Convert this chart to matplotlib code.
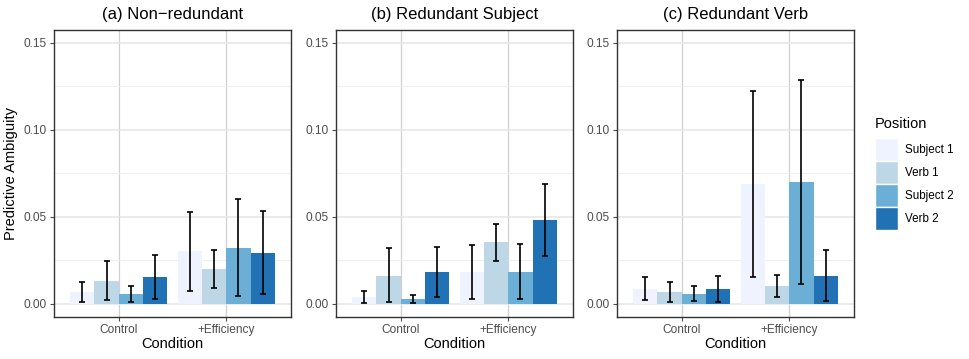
import matplotlib
matplotlib.use("Agg")
import matplotlib.pyplot as plt
import numpy as np
from matplotlib.patches import Patch
from matplotlib.ticker import MultipleLocator

plt.rcParams['font.family'] = ['Liberation Sans', 'DejaVu Sans']

conditions = ["Control", "+Efficiency"]
positions = ["Subject 1", "Verb 1", "Subject 2", "Verb 2"]
colors = ["#EFF3FF", "#BDD7E7", "#6BAED6", "#2171B5"]
titles = ["(a) Non\u2212redundant", "(b) Redundant Subject", "(c) Redundant Verb"]

# mean values: [panel][position][condition]
means = [
    [[0.0065, 0.0300], [0.0130, 0.0200], [0.0054, 0.0320], [0.0155, 0.0290]],
    [[0.0036, 0.0180], [0.0161, 0.0353], [0.0025, 0.0184], [0.0180, 0.0480]],
    [[0.0084, 0.0687], [0.0065, 0.0100], [0.0056, 0.0698], [0.0082, 0.0159]],
]
lower = [
    [[0.0010, 0.0075], [0.0019, 0.0090], [0.0010, 0.0042], [0.0029, 0.0054]],
    [[0.0004, 0.0027], [0.0008, 0.0246], [0.0002, 0.0027], [0.0040, 0.0272]],
    [[0.0019, 0.0153], [0.0008, 0.0036], [0.0013, 0.0115], [0.0010, 0.0013]],
]
upper = [
    [[0.0125, 0.0527], [0.0247, 0.0310], [0.0100, 0.0600], [0.0280, 0.0530]],
    [[0.0071, 0.0336], [0.0318, 0.0460], [0.0050, 0.0345], [0.0324, 0.0689]],
    [[0.0153, 0.1222], [0.0123, 0.0163], [0.0102, 0.1283], [0.0157, 0.0309]],
]

fig = plt.figure(figsize=(9.69, 3.59), dpi=100)
W, H = 969, 359
lefts = [54, 336, 617]
pw = 237
top, bottom = 30, 317

x = np.arange(len(conditions)) + 1
bw = 0.9 / len(positions)

for p in range(3):
    ax = fig.add_axes([lefts[p] / W, 1 - bottom / H, pw / W, (bottom - top) / H])
    ax.set_axisbelow(True)
    ax.yaxis.set_minor_locator(MultipleLocator(0.025))
    ax.grid(True, which='major', axis='y', color='#E5E5E5', linewidth=1.1)
    ax.grid(True, which='minor', axis='y', color='#EDEDED', linewidth=0.6)
    ax.grid(True, which='major', axis='x', color='#D0D0D0', linewidth=0.9)
    for i in range(len(positions)):
        xs = x - 0.45 + bw * (i + 0.5)
        m = np.array(means[p][i])
        lo = np.array(lower[p][i])
        hi = np.array(upper[p][i])
        ax.bar(xs, m, width=bw, color=colors[i], edgecolor='none', zorder=2)
        ax.errorbar(xs, m, yerr=[m - lo, hi - m], fmt='none', ecolor='black',
                    elinewidth=1.2, capsize=2.3, capthick=1.2, zorder=3)
    ax.set_xlim(0.4, 2.6)
    ax.set_ylim(-0.0077, 0.1573)
    ax.set_xticks(x)
    ax.set_xticklabels(conditions)
    ax.set_yticks([0.0, 0.05, 0.10, 0.15])
    ax.set_yticklabels(["0.00", "0.05", "0.10", "0.15"])
    ax.tick_params(axis='both', which='major', colors='#4D4D4D', labelsize=8.6,
                   length=3, width=0.8, pad=2)
    ax.tick_params(axis='y', which='minor', length=0)
    for s in ax.spines.values():
        s.set_color('#333333')
        s.set_linewidth(1.0)
    ax.set_title(titles[p], fontsize=12, pad=8)
    ax.set_xlabel("Condition", fontsize=10.5, labelpad=1)
    if p == 0:
        ax.set_ylabel("Predictive Ambiguity", fontsize=10.5, labelpad=4)

handles = [Patch(facecolor=c, edgecolor='white', linewidth=1.0, label=l)
           for c, l in zip(colors, positions)]
leg = fig.legend(handles=handles, title="Position", loc='upper left',
                 bbox_to_anchor=(875 / W, 1 - 117 / H), frameon=False, fontsize=8.4,
                 title_fontsize=10.5, handlelength=1.95, handleheight=2.66,
                 labelspacing=0.0, handletextpad=0.6, alignment='left',
                 borderaxespad=0, borderpad=0)
leg._legend_box.sep = 5  # gap between title and keys

fig.savefig("out.png", dpi=100)
